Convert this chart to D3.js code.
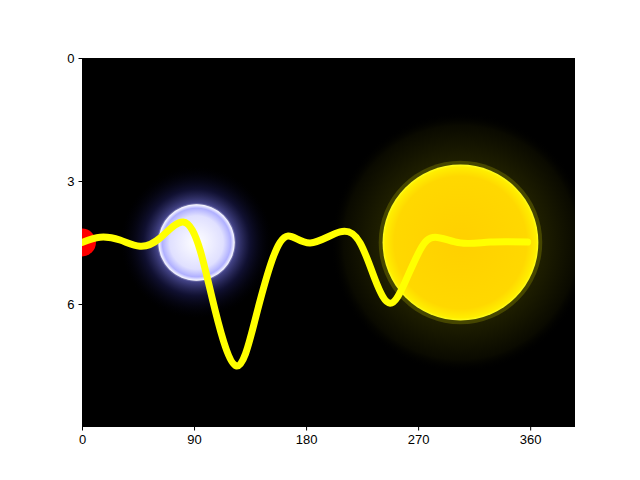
<!DOCTYPE html>
<html><head><meta charset="utf-8">
<script src="https://cdn.jsdelivr.net/npm/d3@7"></script>
<style>body{margin:0;background:#fff}svg{font-family:"DejaVu Sans",sans-serif}</style>
</head><body>
<script>
const waveX = [0,14.5,30.5,46.6,62.7,81.2,94.8,106.9,123.8,139,152.7,165.6,183.3,207.3,223.4,235.5,247.5,259.6,271.6,283.7,303.8,327.9,358];
const waveY = [4.5,4.37,4.44,4.59,4.39,4.0,4.68,6.15,7.51,6.39,4.93,4.34,4.51,4.24,4.51,5.41,5.98,5.46,4.68,4.37,4.51,4.49,4.49];
const xTicks = [0,90,180,270,360];
const yTicks = [0,3,6];
const bodies = [
  {name:"red", x:0, y:4.5, r:0.34},
  {name:"star", x:92, y:4.5, r:0.93},
  {name:"sun", x:304, y:4.5, r:1.9}
];
const W=640,H=480,m={l:82,r:65,t:58,b:53};
const svg=d3.select("body").append("svg").attr("width",W).attr("height",H);
const x=d3.scaleLinear().domain([0,396]).range([m.l,W-m.r]);
const y=d3.scaleLinear().domain([0,9]).range([m.t,H-m.b]);
const ky=y(1)-y(0);
const defs=svg.append("defs");
defs.append("clipPath").attr("id","c").append("rect").attr("x",m.l).attr("y",m.t).attr("width",W-m.r-m.l).attr("height",H-m.b-m.t);
const g1=defs.append("radialGradient").attr("id","starGlow");
[[0,"#ffffff",1],[0.48,"#e8e8ff",1],[0.52,"#6060c0",0.7],[0.7,"#202060",0.5],[1,"#000010",0]].forEach(s=>g1.append("stop").attr("offset",s[0]).attr("stop-color",s[1]).attr("stop-opacity",s[2]));
const g1b=defs.append("radialGradient").attr("id","starCore");
[[0,"#ffffff"],[0.7,"#e0e0ff"],[0.9,"#b0b0ff"],[1,"#ffffff"]].forEach(s=>g1b.append("stop").attr("offset",s[0]).attr("stop-color",s[1]));
const g2=defs.append("radialGradient").attr("id","sunGlow");
[[0,"#404000",1],[0.6,"#202000",1],[0.9,"#0a0a00",1],[1,"#000000",0]].forEach(s=>g2.append("stop").attr("offset",s[0]).attr("stop-color",s[1]).attr("stop-opacity",s[2]));
const g3=defs.append("radialGradient").attr("id","sunCore");
[[0,"#ffd000"],[0.85,"#ffd800"],[0.97,"#ffee00"],[1,"#ffff20"]].forEach(s=>g3.append("stop").attr("offset",s[0]).attr("stop-color",s[1]));
const p=svg.append("g").attr("clip-path","url(#c)");
p.append("rect").attr("x",m.l).attr("y",m.t).attr("width",W-m.r-m.l).attr("height",H-m.b-m.t).attr("fill","#000");
const sun=bodies[2], star=bodies[1], red=bodies[0];
p.append("circle").attr("cx",x(sun.x)).attr("cy",y(sun.y)).attr("r",sun.r*ky*1.67).attr("fill","url(#sunGlow)");
p.append("circle").attr("cx",x(sun.x)).attr("cy",y(sun.y)).attr("r",sun.r*ky*1.05).attr("fill","#606000").attr("opacity",0.6);
p.append("circle").attr("cx",x(sun.x)).attr("cy",y(sun.y)).attr("r",sun.r*ky).attr("fill","url(#sunCore)");
p.append("circle").attr("cx",x(star.x)).attr("cy",y(star.y)).attr("r",star.r*ky*2).attr("fill","url(#starGlow)");
p.append("circle").attr("cx",x(star.x)).attr("cy",y(star.y)).attr("r",star.r*ky).attr("fill","url(#starCore)");
p.append("circle").attr("cx",x(red.x)).attr("cy",y(red.y)).attr("r",red.r*ky).attr("fill","#ff0000");
const line=d3.line().x((d,i)=>x(waveX[i])).y((d,i)=>y(waveY[i])).curve(d3.curveNatural);
p.append("path").datum(waveX).attr("d",line).attr("fill","none").attr("stroke","#ffff00").attr("stroke-width",7).attr("stroke-linecap","round");
svg.append("g").attr("transform",`translate(0,${H-m.b})`).call(d3.axisBottom(x).tickValues(xTicks).tickSize(3.5).tickPadding(4)).call(a=>{a.select(".domain").remove();a.selectAll("text").attr("font-size",13).attr("fill","#000");});
svg.append("g").attr("transform",`translate(${m.l},0)`).call(d3.axisLeft(y).tickValues(yTicks).tickSize(3.5).tickPadding(4)).call(a=>{a.select(".domain").remove();a.selectAll("text").attr("font-size",13).attr("fill","#000");});
</script>
</body></html>
